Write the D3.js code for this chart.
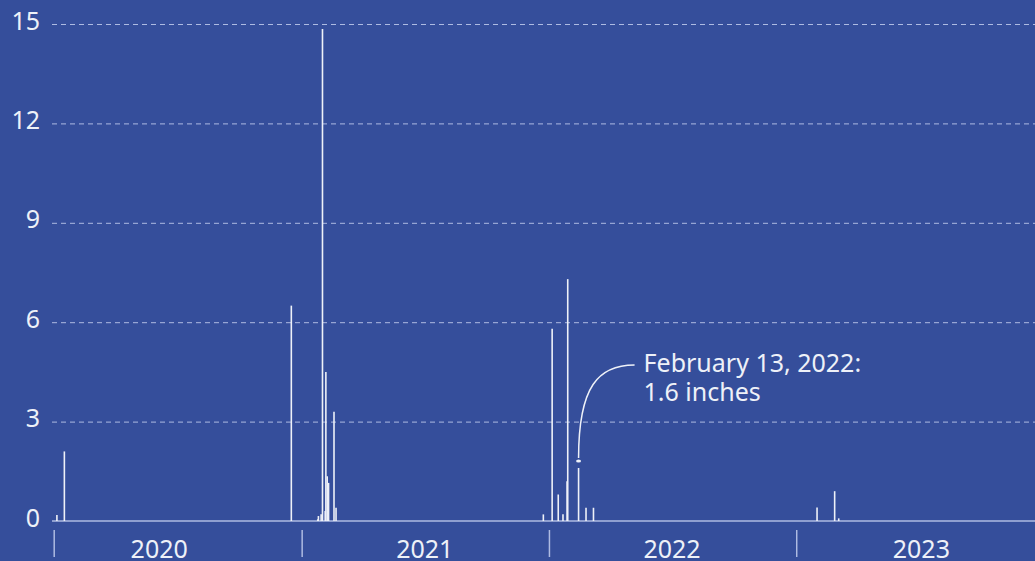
<!DOCTYPE html>
<html>
<head>
<meta charset="utf-8">
<script src="https://cdn.jsdelivr.net/npm/d3@7"></script>
<style>
  html, body { margin: 0; padding: 0; background: #354e9b; overflow: hidden; }
  svg { display: block; font-family: "Noto Sans", sans-serif; }
</style>
</head>
<body>
<div id="chart"></div>
<script>
// daily rainfall, inches
const dates = [
  "2020-01-05", "2020-01-16", "2020-12-16",
  "2021-01-24", "2021-01-25", "2021-01-29", "2021-01-31", "2021-02-04", "2021-02-05",
  "2021-02-07", "2021-02-09", "2021-02-17", "2021-02-20",
  "2021-12-23", "2022-01-05", "2022-01-14", "2022-01-21", "2022-01-27", "2022-01-28",
  "2022-02-13", "2022-02-24", "2022-03-07",
  "2023-01-31", "2023-02-26", "2023-03-04"
];
const rain = [
  0.18, 2.1, 6.5,
  0.05, 0.15, 0.2, 14.85, 0.3, 4.5,
  1.35, 1.15, 3.3, 0.4,
  0.2, 5.8, 0.8, 0.2, 1.2, 7.3,
  1.6, 0.4, 0.4,
  0.41, 0.9, 0.08
];
const yTicks = [0, 3, 6, 9, 12, 15];
const yearStarts = ["2020-01-01", "2021-01-01", "2022-01-01", "2023-01-01"];
const yearLabels = ["2020", "2021", "2022", "2023"];
const yearLabelDates = ["2020-06-04", "2021-07-01", "2022-07-01", "2023-07-04"];
const noteDate = "2022-02-13";
const noteLines = ["February 13, 2022:", "1.6 inches"];

const width = 1035, height = 561;
const parse = d3.timeParse("%Y-%m-%d");
const data = dates.map((d, i) => ({ date: parse(d), value: rain[i] }));

const x = d3.scaleTime()
  .domain([parse("2020-01-01"), parse("2024-01-01")])
  .range([54.2, 1044]);
const y = d3.scaleLinear().domain([0, 15]).range([521, 24]);

const fg = "#eef1f8";
const lineCol = "#aebbe2";

const svg = d3.select("#chart").append("svg")
  .attr("width", width)
  .attr("height", height);

svg.append("rect").attr("width", width).attr("height", height).attr("fill", "#354e9b");

// gridlines + y labels
const yAxis = svg.append("g")
  .attr("transform", "translate(52,0)")
  .call(d3.axisLeft(y).tickValues(yTicks).tickSize(0).tickPadding(12));
yAxis.select(".domain").remove();
yAxis.selectAll(".tick text")
  .attr("fill", fg)
  .attr("font-size", 25)
  .attr("font-family", "Noto Sans, sans-serif")
  .attr("dy", "0.2em");
yAxis.selectAll(".tick")
  .filter(d => d > 0)
  .append("line")
  .attr("x1", 0).attr("x2", width)
  .attr("stroke", lineCol)
  .attr("stroke-width", 1)
  .attr("stroke-dasharray", "5,4");

// baseline
svg.append("line")
  .attr("x1", 52).attr("x2", width)
  .attr("y1", y(0)).attr("y2", y(0))
  .attr("stroke", lineCol)
  .attr("stroke-width", 1.5);

// year ticks and labels
svg.selectAll(".ytick")
  .data(yearStarts)
  .join("line")
  .attr("class", "ytick")
  .attr("x1", d => x(parse(d))).attr("x2", d => x(parse(d)))
  .attr("y1", 530).attr("y2", 557)
  .attr("stroke", lineCol)
  .attr("stroke-width", 1.5);

svg.selectAll(".ylab")
  .data(yearLabels)
  .join("text")
  .attr("class", "ylab")
  .attr("x", (d, i) => x(parse(yearLabelDates[i])))
  .attr("y", 558)
  .attr("text-anchor", "middle")
  .attr("fill", fg)
  .attr("font-size", 25)
  .text(d => d);

// rain bars
svg.selectAll(".bar")
  .data(data)
  .join("line")
  .attr("class", "bar")
  .attr("x1", d => x(d.date)).attr("x2", d => x(d.date))
  .attr("y1", y(0)).attr("y2", d => y(d.value))
  .attr("stroke", fg)
  .attr("stroke-width", 1.6);

// annotation
const nx = x(parse(noteDate));
const nv = rain[dates.indexOf(noteDate)];
const ny = y(nv) - 7;
svg.append("ellipse")
  .attr("cx", nx).attr("cy", ny)
  .attr("rx", 2.5).attr("ry", 1.5)
  .attr("fill", fg);
svg.append("path")
  .attr("d", `M${nx + 56},${ny - 96} C${nx + 20},${ny - 96} ${nx},${ny - 75} ${nx},${ny - 3}`)
  .attr("fill", "none")
  .attr("stroke", fg)
  .attr("stroke-width", 1.5);
svg.selectAll(".note")
  .data(noteLines)
  .join("text")
  .attr("class", "note")
  .attr("x", nx + 65)
  .attr("y", (d, i) => ny - 89 + i * 29)
  .attr("fill", fg)
  .attr("font-size", 25)
  .text(d => d);
</script>
</body>
</html>
